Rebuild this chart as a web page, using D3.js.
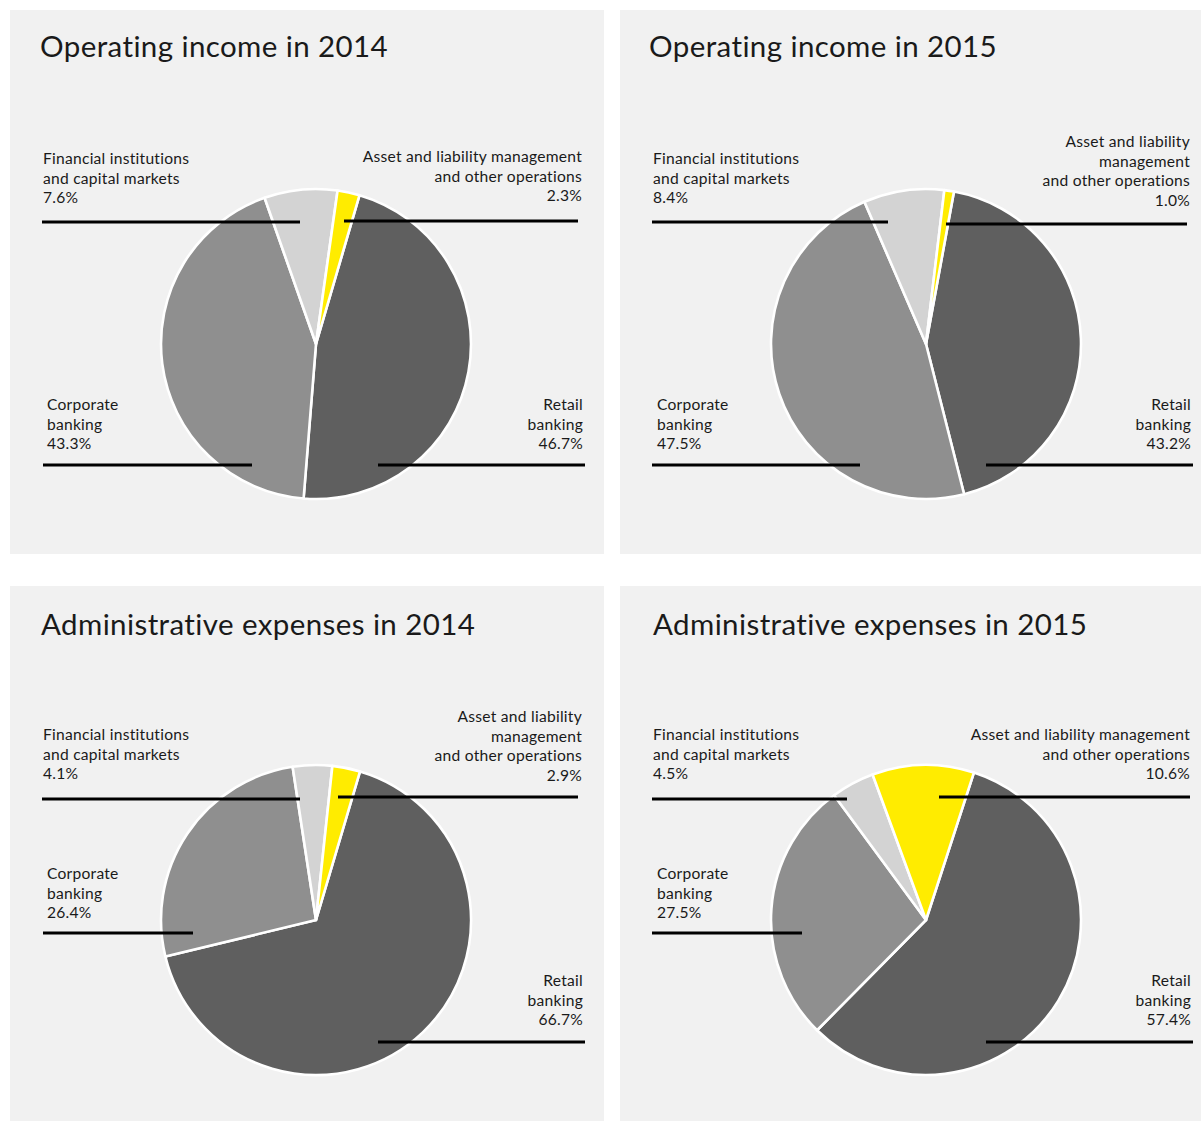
<!DOCTYPE html>
<html>
<head>
<meta charset="utf-8">
<script src="https://cdn.jsdelivr.net/npm/d3@7"></script>
<style>
  html, body { margin: 0; padding: 0; background: #ffffff; }
  svg { display: block; }
  text { font-family: Lato, "Noto Sans", sans-serif; fill: #1a1a1a; }
</style>
</head>
<body>
<svg id="chart" width="1201" height="1121"></svg>
<script>
// Segment names and colours (same order in every pie, drawn clockwise)
const segments = ["Retail banking", "Corporate banking", "Financial institutions and capital markets", "Asset and liability management and other operations"];
const segmentColors = ["#5f5f5f", "#8f8f8f", "#d3d3d3", "#ffec00"];

// Panel titles
const titles = [
  "Operating income in 2014",
  "Operating income in 2015",
  "Administrative expenses in 2014",
  "Administrative expenses in 2015"
];

// Shares in percent: Retail, Corporate, Financial institutions, ALM & other
const income2014 = [46.7, 43.3, 7.6, 2.3];
const income2015 = [43.2, 47.5, 8.4, 1.0];
const expenses2014 = [66.7, 26.4, 4.1, 2.9];
const expenses2015 = [57.4, 27.5, 4.5, 10.6];
const seriesValues = [income2014, income2015, expenses2014, expenses2015];

// Label text lines per panel (the value line is appended from the data)
const labelLines = [
  [["Retail", "banking"], ["Corporate", "banking"], ["Financial institutions", "and capital markets"], ["Asset and liability management", "and other operations"]],
  [["Retail", "banking"], ["Corporate", "banking"], ["Financial institutions", "and capital markets"], ["Asset and liability", "management", "and other operations"]],
  [["Retail", "banking"], ["Corporate", "banking"], ["Financial institutions", "and capital markets"], ["Asset and liability", "management", "and other operations"]],
  [["Retail", "banking"], ["Corporate", "banking"], ["Financial institutions", "and capital markets"], ["Asset and liability management", "and other operations"]]
];

// ---- layout ----
const panelW = 594, panelH = 544, panelH2 = 535;
const panelOrigins = [[10, 10], [620, 10], [10, 586], [620, 586]];
const panelHeights = [panelH, panelH, panelH2, panelH2];
const pieCenter = [306, 334];
const radius = 155;
// rotation (degrees) of the start of the first segment, clockwise from 12 o'clock
const rotations = [16.3, 10.4, 16.5, 18.0];

// label placement inside each panel: [anchor, textX, firstBaseline, lineY, lineX1, lineX2]
const labelLayouts = [
  [["end", 573, 400, 455, 368, 575], ["start", 37, 400, 455, 33, 242], ["start", 33, 154, 212, 32, 290], ["end", 572, 152, 211, 334, 568]],
  [["end", 571, 400, 455, 366, 573], ["start", 37, 400, 455, 32, 240], ["start", 33, 154, 212, 32, 268], ["end", 570, 137, 214, 326, 567]],
  [["end", 573, 400, 456, 368, 575], ["start", 37, 293, 347, 33, 183], ["start", 33, 154, 213, 32, 290], ["end", 572, 136, 211, 328, 568]],
  [["end", 571, 400, 456, 366, 573], ["start", 37, 293, 347, 32, 182], ["start", 33, 154, 213, 32, 227], ["end", 570, 154, 211, 319, 570]]
];
const titlePos = [[30, 47], [29, 47], [31, 49], [33, 49]];
const lineHeight = 19.6;

const svg = d3.select("#chart");
const color = d3.scaleOrdinal().domain(segments).range(segmentColors);
const arc = d3.arc().innerRadius(0).outerRadius(radius);
const fmt = d3.format(".1f");

seriesValues.forEach((values, i) => {
  const [ox, oy] = panelOrigins[i];
  const g = svg.append("g").attr("transform", `translate(${ox},${oy})`);

  g.append("rect")
    .attr("width", panelW)
    .attr("height", panelHeights[i])
    .attr("fill", "#f1f1f1");

  g.append("text")
    .attr("x", titlePos[i][0])
    .attr("y", titlePos[i][1])
    .attr("font-size", 29.5)
    .attr("letter-spacing", 0.4)
    .text(titles[i]);

  const start = rotations[i] * Math.PI / 180;
  const pie = d3.pie().sort(null).value(d => d.value)
    .startAngle(start).endAngle(start + 2 * Math.PI);
  const data = segments.map((s, k) => ({ name: s, value: values[k] }));

  const pg = g.append("g").attr("transform", `translate(${pieCenter[0]},${pieCenter[1]})`);
  pg.selectAll("path")
    .data(pie(data))
    .join("path")
    .attr("d", arc)
    .attr("fill", d => color(d.data.name))
    .attr("stroke", "#ffffff")
    .attr("stroke-width", 2.6)
    .attr("stroke-linejoin", "round");

  // labels with leader lines
  data.forEach((d, k) => {
    const [anchor, tx, ty, ly, lx1, lx2] = labelLayouts[i][k];
    const lines = labelLines[i][k].concat([fmt(d.value) + "%"]);
    const t = g.append("text")
      .attr("text-anchor", anchor)
      .attr("font-size", 15.6)
      .attr("letter-spacing", 0.25);
    lines.forEach((ln, j) => {
      t.append("tspan").attr("x", tx).attr("y", ty + j * lineHeight).text(ln);
    });
    g.append("line")
      .attr("x1", lx1).attr("x2", lx2)
      .attr("y1", ly).attr("y2", ly)
      .attr("stroke", "#000000")
      .attr("stroke-width", 3);
  });
});
</script>
</body>
</html>
